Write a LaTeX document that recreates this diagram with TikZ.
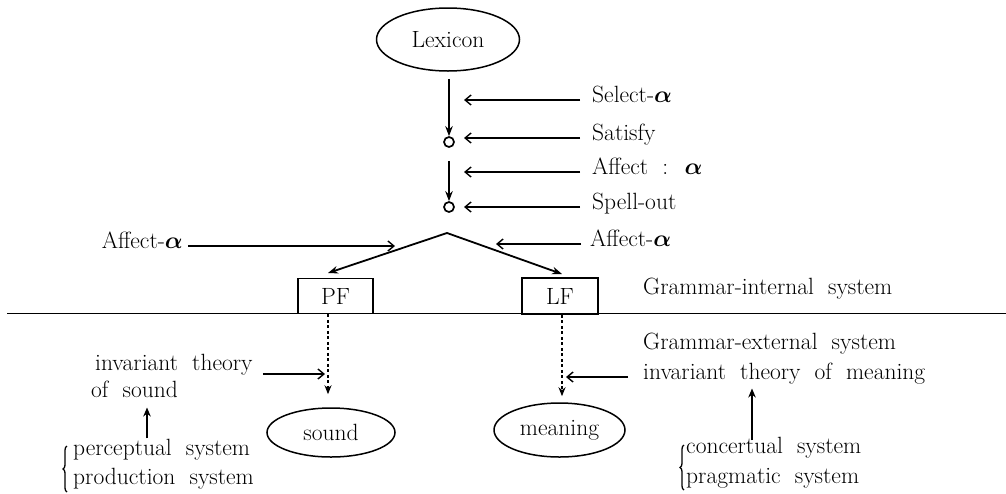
\RequirePackage{fix-cm}
\documentclass[tikz,border=0pt]{standalone}
\usepackage{amsmath}
\usetikzlibrary{arrows.meta,decorations.pathreplacing,shapes.geometric}
\newcommand\widespaces{\spaceskip=0.6em plus 0.1em\relax}

\begin{document}
\begin{tikzpicture}[x=1pt,y=-1pt,
  every node/.style={font={\fontsize{23.5}{28}\selectfont\widespaces}},
  word/.style={inner sep=0pt,text height=1.6ex,text depth=0.4ex},
  oval/.style={draw,ellipse,line width=1.5pt,inner sep=0pt},
  formbox/.style={draw,rectangle,line width=1.6pt,inner sep=0pt,fill=white},
  knot/.style={draw,circle,line width=1.7pt,minimum size=10pt,inner sep=0pt},
  spine/.style={line width=1.8pt,-{Stealth[length=10pt,width=7.5pt]}},
  pointer/.style={line width=1.4pt,-{Straight Barb[length=6pt,width=10pt]}},
  uppointer/.style={line width=1.7pt,-{Stealth[length=9pt,width=7.5pt]}},
  dotarrow/.style={line width=1.6pt,dash pattern=on 3pt off 2.5pt,-{Stealth[length=9pt,width=7pt]}},
  rule/.style={line width=1.6pt},
  bracket/.style={line width=1.3pt,decorate,decoration={brace,amplitude=4pt}}]

\useasboundingbox (0,0) rectangle (1006,493);

% derivation spine
\node[oval,minimum width=143pt,minimum height=63pt] (lex) at (448,39.5) {Lexicon};
\node[knot] (c1) at (449,142) {};
\node[knot] (c2) at (449,207) {};
\draw[spine,shorten <=7pt] (lex.south -| c1) -- (c1.north);
\draw[spine,shorten <=13pt] (c1.south) -- (c2.north);

% branching to the interface levels
\coordinate (apex) at (447,233);
\coordinate (pfin) at (328,273);
\coordinate (lfin) at (562,274);
\draw[rule] (7,313.5) -- (1006,313.5);
\node[formbox,minimum width=75pt,minimum height=35pt] (pf) at (335.5,296) {PF};
\node[formbox,minimum width=76pt,minimum height=36pt] (lf) at (560,296) {LF};
\draw[line width=1.8pt,line join=miter,{Stealth[length=10pt,width=7.5pt]}-{Stealth[length=10pt,width=7.5pt]}]
  (pfin) -- (apex) -- (lfin);

% operations acting on the spine
\coordinate (tip) at (464,0);
\node[word,anchor=west] (sel) at (592,100) {Select-$\boldsymbol{\alpha}$};
\node[word,anchor=west] (sat) at (592,138) {Satisfy};
\node[word,anchor=west] (aff) at (592,172) {Affect : $\boldsymbol{\alpha}$};
\node[word,anchor=west] (spo) at (592,207) {Spell-out};
\foreach \n in {sel,sat,aff,spo}
  \draw[pointer,shorten <=12pt] (\n.west) -- (\n.west -| tip);

\coordinate (tipr) at (496,0);
\coordinate (tipl) at (395,0);
\node[word,anchor=west] (affr) at (590,244) {Affect-$\boldsymbol{\alpha}$};
\node[word,anchor=east] (affl) at (183,246) {Affect-$\boldsymbol{\alpha}$};
\draw[pointer,shorten <=9pt] (affr.west) -- (affr.west -| tipr);
\draw[pointer,shorten <=5pt] (affl.east) -- (affl.east -| tipl);

% grammar-internal / grammar-external
\node[word,anchor=west] (gint) at (643,292) {Grammar-internal system};
\node[word,anchor=west] (gext) at (643,347) {Grammar-external system};

% sound side
\node[oval,minimum width=128pt,minimum height=49pt] (sound) at (331,432.5) {sound};
\draw[dotarrow,shorten >=13pt] (pf.south -| pfin) -- (sound.north -| pfin);
\node[word,anchor=west] (ith) at (95,368) {invariant theory};
\node[word,anchor=west] (ofs) at (91,395) {of sound};
\draw[pointer,shorten <=10pt,shorten >=3pt] ([yshift=-6pt]ith.east) -- ([yshift=-6pt]ith.east -| pfin);
\coordinate (us) at (147,0);
\node[word,anchor=west] (perc) at (73,453) {perceptual system};
\node[word,anchor=west] (prod) at (73,482) {production system};
\draw[uppointer,shorten <=10pt,shorten >=8pt] (perc.north -| us) -- (ofs.south -| us);
\draw[bracket] (67,492) -- (67,446);

% meaning side
\node[oval,minimum width=131pt,minimum height=54pt] (meaning) at (559.5,430) {meaning};
\draw[dotarrow,shorten >=6pt] (lf.south -| lfin) -- (meaning.north -| lfin);
\node[word,anchor=west] (itm) at (643,377) {invariant theory of meaning};
\draw[pointer,shorten <=15pt,shorten >=4pt] (itm.west) -- (itm.west -| lfin);
\coordinate (um) at (752,0);
\node[word,anchor=west] (conc) at (686,451) {concertual system};
\node[word,anchor=west] (prag) at (686,481) {pragmatic system};
\draw[uppointer,shorten <=6pt,shorten >=7pt] (conc.north -| um) -- (itm.south -| um);
\draw[bracket] (684,490) -- (684,445);

\end{tikzpicture}
\end{document}
